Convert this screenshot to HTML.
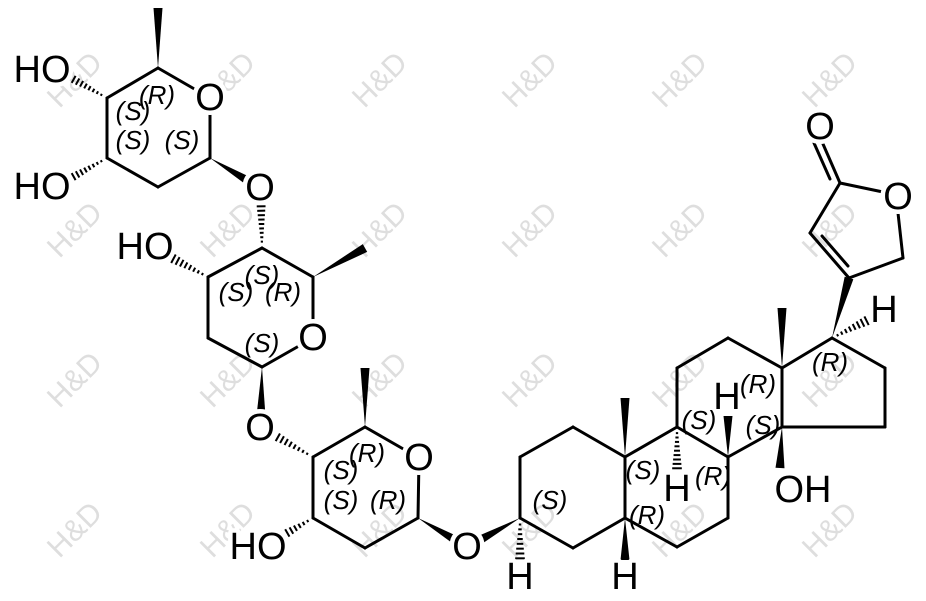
<!DOCTYPE html>
<html><head><meta charset="utf-8"><style>
html,body{margin:0;padding:0;background:#fff;}
svg{display:block;}
.a{font-family:"Liberation Sans",Arial,sans-serif;font-size:38px;fill:#000;text-anchor:middle;dominant-baseline:central;stroke:#fff;stroke-width:9px;paint-order:stroke;stroke-linejoin:round;}
.s{font-family:"Liberation Sans",Arial,sans-serif;font-size:26px;font-style:italic;fill:#000;text-anchor:middle;dominant-baseline:central;}
.w{font-family:"Liberation Sans",Arial,sans-serif;font-size:30px;fill:#dedede;text-anchor:middle;dominant-baseline:central;}
</style></head><body>
<svg id="sv" width="926" height="601" viewBox="0 0 926 601" xmlns="http://www.w3.org/2000/svg">
<g id="wm">
<text class="w" transform="translate(75,80) rotate(-45)">H&amp;D</text>
<text class="w" transform="translate(228,80) rotate(-45)">H&amp;D</text>
<text class="w" transform="translate(380,80) rotate(-45)">H&amp;D</text>
<text class="w" transform="translate(530,80) rotate(-45)">H&amp;D</text>
<text class="w" transform="translate(680,80) rotate(-45)">H&amp;D</text>
<text class="w" transform="translate(830,80) rotate(-45)">H&amp;D</text>
<text class="w" transform="translate(75,230) rotate(-45)">H&amp;D</text>
<text class="w" transform="translate(228,230) rotate(-45)">H&amp;D</text>
<text class="w" transform="translate(380,230) rotate(-45)">H&amp;D</text>
<text class="w" transform="translate(530,230) rotate(-45)">H&amp;D</text>
<text class="w" transform="translate(680,230) rotate(-45)">H&amp;D</text>
<text class="w" transform="translate(830,230) rotate(-45)">H&amp;D</text>
<text class="w" transform="translate(75,380) rotate(-45)">H&amp;D</text>
<text class="w" transform="translate(228,380) rotate(-45)">H&amp;D</text>
<text class="w" transform="translate(380,380) rotate(-45)">H&amp;D</text>
<text class="w" transform="translate(530,380) rotate(-45)">H&amp;D</text>
<text class="w" transform="translate(680,380) rotate(-45)">H&amp;D</text>
<text class="w" transform="translate(830,380) rotate(-45)">H&amp;D</text>
<text class="w" transform="translate(75,530) rotate(-45)">H&amp;D</text>
<text class="w" transform="translate(228,530) rotate(-45)">H&amp;D</text>
<text class="w" transform="translate(380,530) rotate(-45)">H&amp;D</text>
<text class="w" transform="translate(530,530) rotate(-45)">H&amp;D</text>
<text class="w" transform="translate(680,530) rotate(-45)">H&amp;D</text>
<text class="w" transform="translate(830,530) rotate(-45)">H&amp;D</text>
</g>
<g id="bonds" stroke="#000" stroke-width="3" stroke-linecap="round" fill="none"></g>
<g id="wedges" fill="#000"></g>
<g fill="#fff">
<circle cx="210" cy="98" r="15"/>
<circle cx="260" cy="188" r="15"/>
<circle cx="313" cy="338" r="15"/>
<circle cx="260" cy="428" r="15"/>
<circle cx="419" cy="458" r="15"/>
<circle cx="467" cy="547" r="15"/>
<circle cx="820" cy="127" r="15"/>
<circle cx="898" cy="197" r="15"/>
</g>
<g id="labels">
<text class="a" x="42" y="70">HO</text>
<text class="a" x="42" y="187">HO</text>
<text class="a" x="210" y="98">O</text>
<text class="a" x="260" y="188">O</text>
<text class="a" x="145" y="247">HO</text>
<text class="a" x="313" y="338">O</text>
<text class="a" x="260" y="428">O</text>
<text class="a" x="419" y="458">O</text>
<text class="a" x="258" y="547">HO</text>
<text class="a" x="467" y="547">O</text>
<text class="a" x="520" y="577">H</text>
<text class="a" x="625" y="577">H</text>
<text class="a" x="677" y="489">H</text>
<text class="a" x="727" y="397">H</text>
<text class="a" x="803" y="490">OH</text>
<text class="a" x="884" y="310">H</text>
<text class="a" x="820" y="127">O</text>
<text class="a" x="898" y="197">O</text>
</g>
<g id="st">
<text class="s" x="157" y="95">(R)</text>
<text class="s" x="133" y="111">(S)</text>
<text class="s" x="133" y="140">(S)</text>
<text class="s" x="182" y="140">(S)</text>
<text class="s" x="262" y="275">(S)</text>
<text class="s" x="236" y="292">(S)</text>
<text class="s" x="283" y="292">(R)</text>
<text class="s" x="262" y="343">(S)</text>
<text class="s" x="367" y="453">(R)</text>
<text class="s" x="341" y="470">(S)</text>
<text class="s" x="341" y="500">(S)</text>
<text class="s" x="388" y="500">(R)</text>
<text class="s" x="550" y="500">(S)</text>
<text class="s" x="647" y="515">(R)</text>
<text class="s" x="643" y="470">(S)</text>
<text class="s" x="699" y="420">(S)</text>
<text class="s" x="713" y="476">(R)</text>
<text class="s" x="758" y="384">(R)</text>
<text class="s" x="763" y="425">(S)</text>
<text class="s" x="830" y="362">(R)</text>
</g>
</svg>
<script>
var NS="http://www.w3.org/2000/svg";
var B=document.getElementById('bonds'),W=document.getElementById('wedges');
function L(a,b,c,d){var l=document.createElementNS(NS,'line');l.setAttribute('x1',a);l.setAttribute('y1',b);l.setAttribute('x2',c);l.setAttribute('y2',d);B.appendChild(l);}
function P(pts){return pts.map(function(p){return p.join(',');}).join(' ');}
function wedge(a,b,c,d){var dx=c-a,dy=d-b,len=Math.hypot(dx,dy),nx=-dy/len*4.5,ny=dx/len*4.5;var p=document.createElementNS(NS,'polygon');p.setAttribute('points',P([[a,b],[c+nx,d+ny],[c-nx,d-ny]]));W.appendChild(p);}
function hash(a,b,c,d){var dx=c-a,dy=d-b,len=Math.hypot(dx,dy),ux=-dy/len,uy=dx/len;var n=Math.max(5,Math.round(len/5));for(var i=1;i<=n;i++){var t=i/n*0.92+0.04,x=a+dx*t,y=b+dy*t,h=0.5+t*4.5;var l=document.createElementNS(NS,'line');l.setAttribute('x1',x+ux*h);l.setAttribute('y1',y+uy*h);l.setAttribute('x2',x-ux*h);l.setAttribute('y2',y-uy*h);l.setAttribute('stroke-width','2');l.setAttribute('stroke-linecap','butt');B.appendChild(l);}}
L(158,68,210,98);L(158,68,107,98);L(107,98,107,158);L(107,158,158,187);L(158,187,210,158);L(210,158,210,98);
wedge(158,68,158,8);hash(107,98,64,74);hash(107,158,64,182);wedge(210,158,250,182);
hash(262,248,261,200);L(262,248,208,277);L(208,277,208,338);L(208,338,262,367);L(262,367,313,338);L(313,338,313,277);L(313,277,262,248);
wedge(313,277,365,248);hash(208,277,172,258);wedge(262,367,261,416);
hash(313,457,272,434);L(313,457,365,427);L(365,427,419,458);L(419,458,418,518);L(418,518,365,548);L(365,548,313,518);L(313,518,313,457);
wedge(365,427,365,368);hash(313,518,282,536);wedge(418,518,457,541);wedge(520,518,478,541);
L(520,518,520,457);L(520,457,573,427);L(573,427,625,457);L(625,457,625,518);L(625,518,573,548);L(573,548,520,518);
L(625,457,677,427);L(677,427,728,457);L(728,457,728,518);L(728,518,677,547);L(677,547,625,518);
L(677,427,677,368);L(677,368,728,338);L(728,338,782,368);L(782,368,782,427);L(782,427,728,457);
L(782,368,832,338);L(832,338,885,368);L(885,368,885,427);L(885,427,782,427);
wedge(625,457,625,398);wedge(625,518,625,560);wedge(728,457,728,416);wedge(782,368,782,308);wedge(832,338,849,278);wedge(782,427,780,468);
hash(677,427,677,470);hash(520,518,520,560);hash(832,338,868,320);
L(849,278,903,258);L(903,258,898,213);L(883,192,840,183);L(840,183,810,233);L(810,233,849,278);
L(822,236,848,266);
L(840,183,823,144);L(830,179,814,143);
</script>
</body></html>
